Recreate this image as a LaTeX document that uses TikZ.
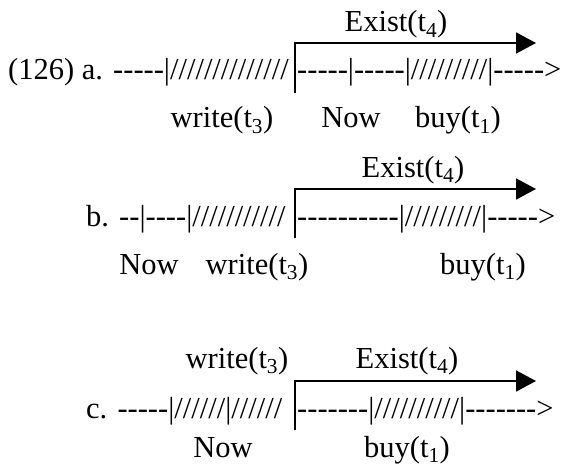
\documentclass[tikz,border=0pt]{standalone}
\usepackage{fontspec}
\setmainfont{Liberation Serif}[Ligatures=TeXOff]
\usetikzlibrary{arrows.meta}
\begin{document}
\begin{tikzpicture}[x=1pt,y=-1pt,
  txt/.style={inner sep=0pt, font=\fontsize{30.5}{36}\selectfont},
  lbl/.style={txt, anchor=base},
  tline/.style={txt, anchor=base west},
  elbow/.style={line width=1.6pt, -{Triangle[length=20pt,width=21pt]}}]
\useasboundingbox (0,0) rectangle (562,468);

% (126) a.
\node[tline] (tla1) at (8,80) {(126) a. -----|//////////////};
\node[tline] (tla2) at (297,80) {-----|-----|/////////|----->};
\coordinate (va) at (295,93);
\coordinate (ta) at (536,43);
\draw[elbow] (va) |- (ta);
\node[lbl] (exa) at (396,32) {Exist(t\textsubscript{4})};
\node[lbl] (wra) at (222,128) {write(t\textsubscript{3})};
\node[lbl] (nowa) at (351,128) {Now};
\node[lbl] (buya) at (458,128) {buy(t\textsubscript{1})};

% b.
\node[tline] (tlb1) at (86,226) {b. --|----|///////////};
\node[tline] (tlb2) at (297,226) {----------|/////////|----->};
\coordinate (vb) at (295,238);
\coordinate (tb) at (536,189);
\draw[elbow] (vb) |- (tb);
\node[lbl] (exb) at (413,177) {Exist(t\textsubscript{4})};
\node[lbl] (nowb) at (149,274) {Now};
\node[lbl] (wrb) at (257,274) {write(t\textsubscript{3})};
\node[lbl] (buyb) at (483,274) {buy(t\textsubscript{1})};

% c.
\node[tline] (tlc1) at (86,418) {c. -----|//////|//////};
\node[tline] (tlc2) at (297,418) {-------|//////////|------->};
\coordinate (vc) at (295,430);
\coordinate (tc) at (536,381);
\draw[elbow] (vc) |- (tc);
\node[lbl] (wrc) at (237,368) {write(t\textsubscript{3})};
\node[lbl] (exc) at (407,368) {Exist(t\textsubscript{4})};
\node[lbl] (nowc) at (223,457) {Now};
\node[lbl] (buyc) at (407,457) {buy(t\textsubscript{1})};
\end{tikzpicture}
\end{document}
